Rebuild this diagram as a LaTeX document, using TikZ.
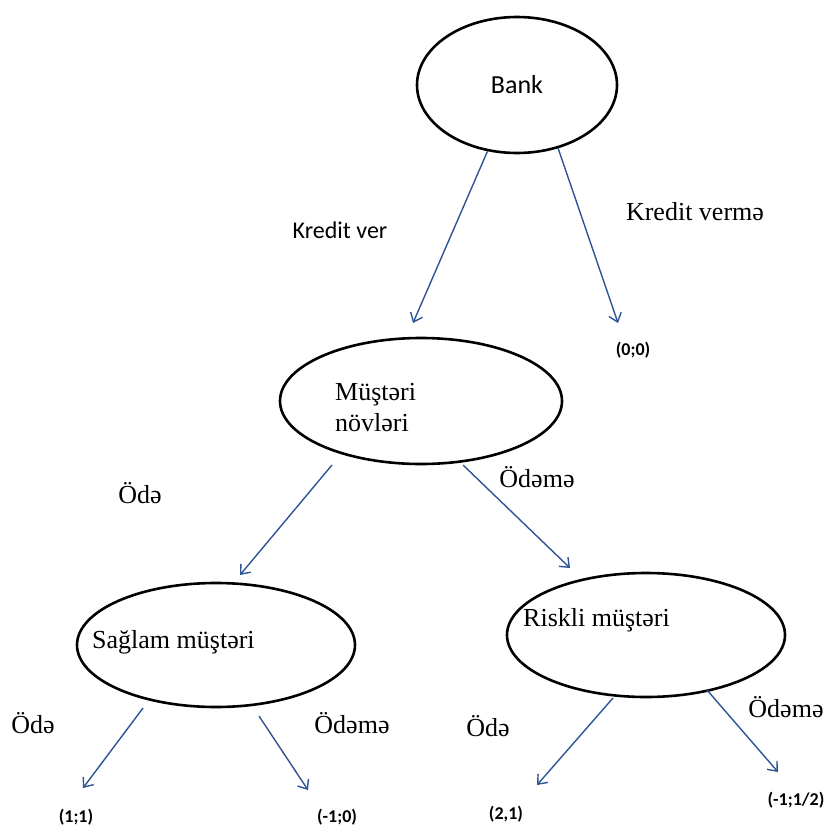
\documentclass[tikz,border=0pt]{standalone}
\usepackage{fontspec}
\setmainfont{Liberation Serif}
\newfontfamily\calibri{Carlito}
\usetikzlibrary{shapes.geometric, arrows.meta, calc}
\definecolor{arrowblue}{RGB}{47,84,150}

\begin{document}
\begin{tikzpicture}[
    x=1pt, y=-1pt,
    state/.style={draw, ellipse, line width=2.6pt, inner sep=0pt},
    move/.style={draw=arrowblue, line width=1.4pt, -{Straight Barb[length=8pt,width=13pt]}},
    choice/.style={font=\fontsize{26}{31}\selectfont, inner sep=0pt},
    payoff/.style={font=\calibri\bfseries\fontsize{18}{20}\selectfont, inner sep=0pt},
]
\useasboundingbox (0,0) rectangle (827,830);

% Players
\node[state, minimum width=200pt, minimum height=136pt, font=\calibri\fontsize{26}{30}\selectfont] (bank) at (517,85) {Bank};
\node[state, minimum width=282pt, minimum height=126pt] (novler) at (421,401) {};
\node[state, minimum width=278pt, minimum height=124pt] (saglam) at (216,645) {};
\node[state, minimum width=278pt, minimum height=124pt] (riskli) at (646,635) {};

% Texts in the ellipses
\node[choice, anchor=west, align=left] (novlertxt) at (335,408) {Müştəri\\növləri};
\node[choice, anchor=west] (saglamtxt) at (92,642) {Sağlam müştəri};
\node[choice, anchor=west] (risklitxt) at (523,620) {Riskli müştəri};

% Choices
\node[choice, font=\calibri\fontsize{24}{28}\selectfont] (kv) at (340,230) {Kredit ver};
\node[choice] (kvm) at (695,212) {Kredit vermə};
\node[choice] (ode1) at (140,493) {Ödə};
\node[choice] (odeme1) at (537,477) {Ödəmə};
\node[choice] (ode2) at (33,723) {Ödə};
\node[choice] (odeme2) at (352,723) {Ödəmə};
\node[choice] (ode3) at (488,726) {Ödə};
\node[choice] (odeme3) at (786,707) {Ödəmə};

% Payoffs
\node[payoff] (p00) at (633,350) {(0;0)};
\node[payoff] (p11) at (76,817) {(1;1)};
\node[payoff] (pm10) at (337,817) {(-1;0)};
\node[payoff] (p21) at (506,814) {(2,1)};
\node[payoff] (pm1h) at (796,800) {(-1;1/2)};

% Arrows
\draw[move] (bank.246) -- ($(novler)+(-8,-78)$);
\draw[move] (bank.303) -- ($(p00)+(-15,-27)$);
\draw[move] ($(novler)+(-89,64)$) -- ($(saglam)+(24,-70)$);
\draw[move] ($(novler)+(42,64)$) -- ($(riskli)+(-76,-67)$);
\draw[move] ($(saglam)+(-73,63)$) -- ($(p11)+(7,-29)$);
\draw[move] ($(saglam)+(43,71)$) -- ($(pm10)+(-29,-27)$);
\draw[move] ($(riskli)+(-33,63)$) -- ($(p21)+(31,-29)$);
\draw[move] ($(riskli)+(61,55)$) -- ($(pm1h)+(-18,-28)$);

\end{tikzpicture}
\end{document}
